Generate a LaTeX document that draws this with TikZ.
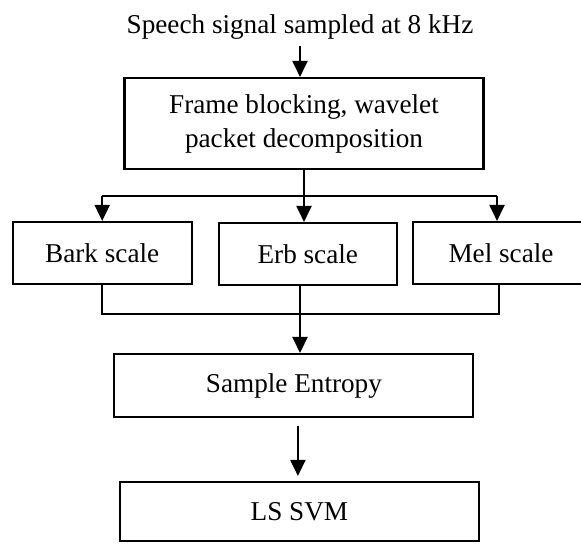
\documentclass[tikz,border=0pt]{standalone}
\usepackage{fontspec}
\setmainfont{Liberation Serif}
\usetikzlibrary{arrows.meta, calc}

\begin{document}
\begin{tikzpicture}[x=0.5pt, y=-0.5pt,
    font=\fontsize{13.6}{17}\selectfont,
    box/.style={draw, line width=1.05pt, inner sep=0pt, align=center},
    conn/.style={line width=1pt},
    arr/.style={conn, -{Triangle[length=8pt, width=7.5pt]}}]
  \useasboundingbox (0,0) rectangle (581,543);

  % input and first stage
  \node[anchor=base] (src) at (300,33) {Speech signal sampled at 8 kHz};
  \node[box, minimum width=179.5pt, minimum height=45.5pt] (frame) at (304,123.5) {Frame blocking, wavelet\\packet decomposition};

  % the three scales
  \node[box, minimum width=89.5pt, minimum height=31pt] (bark) at (102.2,253) {Bark scale};
  \node[box, minimum width=89pt, minimum height=31pt] (erb) at (307.8,254) {Erb scale};
  \node[box, minimum width=94pt, minimum height=31pt, anchor=west] (mel) at (412,253) {};
  \node (meltxt) at (501,253) {Mel scale};

  % last stages
  \node[box, minimum width=179.5pt, minimum height=31.5pt] (entropy) at (293.9,385.5) {Sample Entropy};
  \node[box, minimum width=179.5pt, minimum height=29.5pt] (lssvm) at (299.4,511.5) {LS SVM};

  \coordinate (split) at (0,196);
  \coordinate (join) at (0,314);

  \draw[arr] (src.south) -- (src.south |- frame.north);
  \draw[conn] (frame.south) -- (frame.south |- split);
  \draw[conn] (bark.north |- split) -- ([xshift=-2pt]meltxt |- split);
  \draw[arr] (bark.north |- split) -- (bark.north);
  \draw[arr] (frame.south |- split) -- (frame.south |- erb.north);
  \draw[arr] ([xshift=-2pt]meltxt |- split) -- ([xshift=-2pt]meltxt |- mel.north);

  \draw[conn] (bark.south) -- (bark.south |- join) -- ([xshift=-1pt]meltxt |- join) -- ([xshift=-1pt]meltxt |- mel.south);
  \draw[arr, line width=1.2pt] ([xshift=-3.9pt]erb.south) -- ([xshift=-3.9pt]erb.south |- entropy.north);
  \draw[arr, shorten <=4pt, shorten >=2.5pt] ([xshift=2pt]entropy.south) -- ([xshift=2pt]entropy.south |- lssvm.north);
\end{tikzpicture}
\end{document}
